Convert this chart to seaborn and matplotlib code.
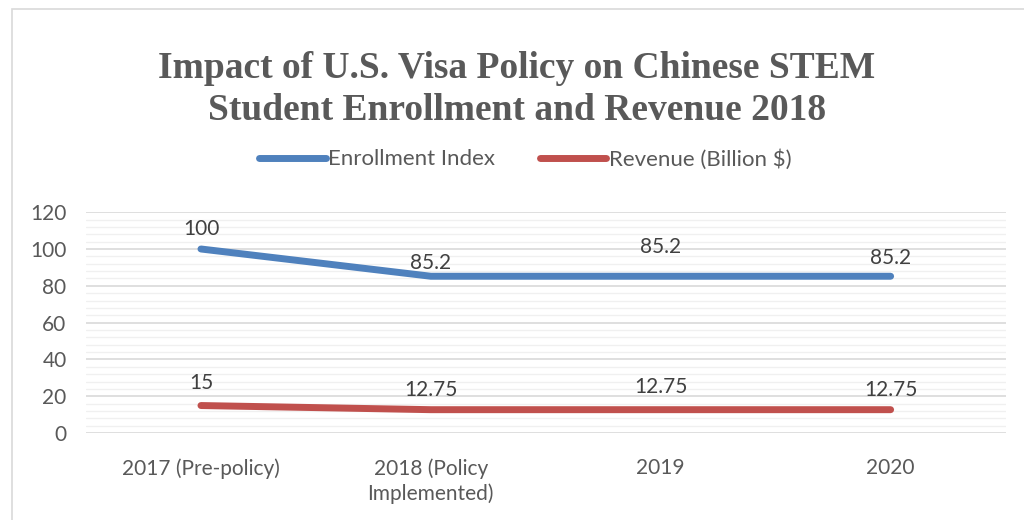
import pandas as pd
import numpy as np
import matplotlib.pyplot as plt
import matplotlib.patches as mpatches
from matplotlib.ticker import MultipleLocator
import seaborn as sns

# Data
categories = ['2017 (Pre-policy)', '2018 (Policy\nImplemented)', '2019', '2020']
enrollment = [100, 85.2, 85.2, 85.2]
revenue = [15, 12.75, 12.75, 12.75]
series_names = ['Enrollment Index', 'Revenue (Billion $)']
label_text_enroll = ['100', '85.2', '85.2', '85.2']
label_text_rev = ['15', '12.75', '12.75', '12.75']

df = pd.DataFrame({
    'pos': list(range(len(categories))) * 2,
    'value': enrollment + revenue,
    'series': [series_names[0]] * 4 + [series_names[1]] * 4,
})

sns.set_theme(style='white')
plt.rcParams['font.family'] = ['Lato', 'DejaVu Sans']

fig = plt.figure(figsize=(10.24, 5.2), dpi=100)
ax = fig.add_axes([0.084, 0.167, 0.898, 0.425])

palette = {series_names[0]: '#4F81BD', series_names[1]: '#C0504D'}
sns.lineplot(data=df, x='pos', y='value', hue='series', palette=palette,
             linewidth=5, ax=ax, legend=False, solid_capstyle='round')

ax.set_xlim(-0.5, 3.5)
ax.set_ylim(0, 120)
ax.yaxis.set_major_locator(MultipleLocator(20))
ax.yaxis.set_minor_locator(MultipleLocator(4))
ax.grid(axis='y', which='major', color='#d9d9d9', linewidth=1.2)
ax.grid(axis='y', which='minor', color='#f0f0f0', linewidth=1.0)
ax.set_axisbelow(True)
for s in ax.spines.values():
    s.set_visible(False)

fs = 15
ax.set_xticks(range(len(categories)))
ax.set_xticklabels(categories, fontsize=fs, color='#595959', linespacing=1.3)
ax.tick_params(axis='y', labelsize=fs, labelcolor='#595959', pad=14, length=0)
ax.tick_params(axis='x', pad=18, length=0)
ax.set_xlabel('')
ax.set_ylabel('')

# data labels (Excel-style auto placement offsets in points)
enroll_off = [14.5, 9.5, 21, 13]
rev_off = [16, 14.5, 16, 14.5]
for i in range(len(categories)):
    ax.annotate(label_text_enroll[i], (i, enrollment[i]), xytext=(0, enroll_off[i]),
                textcoords='offset points', ha='center', va='center', fontsize=fs, color='#404040')
    ax.annotate(label_text_rev[i], (i, revenue[i]), xytext=(0, rev_off[i]),
                textcoords='offset points', ha='center', va='center', fontsize=fs, color='#404040')

# Legend
handles = [plt.Line2D([0], [0], color=palette[n], linewidth=5, solid_capstyle='round') for n in series_names]
fig.legend(handles, series_names, loc='center', bbox_to_anchor=(0.513, 0.694), ncol=2,
           frameon=False, fontsize=16, handlelength=3.0, handletextpad=0.1, columnspacing=2.0,
           labelcolor='#595959')

fig.text(0.505, 0.828, 'Impact of U.S. Visa Policy on Chinese STEM\nStudent Enrollment and Revenue 2018',
         ha='center', va='center', fontsize=27, fontweight='bold', color='#595959',
         family=['Liberation Serif', 'DejaVu Serif'], linespacing=1.25)

# chart border
fig.patches.append(mpatches.Rectangle((0.012, -0.01), 1.0, 0.992, transform=fig.transFigure,
                                      fill=False, edgecolor='#d9d9d9', linewidth=1.2))

fig.savefig('out.png', dpi=100)
